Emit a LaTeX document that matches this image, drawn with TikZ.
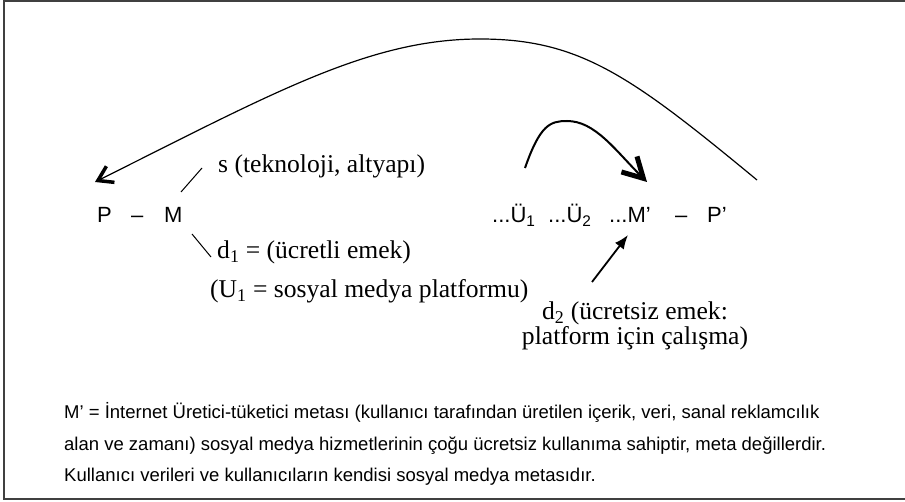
\documentclass[tikz,border=0pt]{standalone}
\usepackage{fontspec}
\setmainfont{Liberation Serif}
\newfontfamily\arialf{Liberation Sans}
\usetikzlibrary{arrows.meta,positioning,calc}

\begin{document}
\begin{tikzpicture}[x=1pt,y=-1pt,
  sanslbl/.style={inner sep=0pt,anchor=base west,font=\arialf\fontsize{22}{22}\selectfont},
  seriflbl/.style={inner sep=0pt,anchor=base west,font=\fontsize{25.6}{25.6}\selectfont},
  notelbl/.style={inner sep=0pt,anchor=base west,font=\arialf\fontsize{18.5}{18.5}\selectfont}]
  \useasboundingbox (0,0) rectangle (905,502);
  \draw[line width=2.5pt,black!75] (905,1) -- (4,1) -- (4,499) -- (905,499);
  % left formula
  \node[sanslbl] (P) at (97,223) {P};
  \node[sanslbl] (dashl) at (131,223) {–};
  \node[sanslbl] (M) at (164,223) {M};
  \node[seriflbl] (tech) at (218,173) {s (teknoloji, altyapı)};
  \node[seriflbl] (paid) at (217,259) {d\textsubscript{1} = (ücretli emek)};
  \node[seriflbl] (plat) at (210,298) {(U\textsubscript{1} = sosyal medya platformu)};
  \coordinate (mtop) at (181,192);
  \coordinate (techend) at (202,168);
  \coordinate (mbot) at (192,234);
  \coordinate (paidend) at (211,257);
  \draw[line width=1pt] (mtop) -- (techend);
  \draw[line width=1pt] (mbot) -- (paidend);
  % right formula
  \node[sanslbl] (ua) at (492,223) {...Ü\textsubscript{1}};
  \node[sanslbl] (ub) at (548,223) {...Ü\textsubscript{2}};
  \node[sanslbl] (mp) at (609,223) {...M’};
  \node[sanslbl] (dashr) at (675,223) {–};
  \node[sanslbl] (pp) at (707,223) {P’};
  \node[inner sep=0pt,anchor=north,align=center,font=\fontsize{25.6}{25}\selectfont] (unpaid) at (635,302)
    {d\textsubscript{2} (ücretsiz emek:\\platform için çalışma)};
  \coordinate (unpaidtop) at (592,282);
  \coordinate (mpfoot) at (628,235);
  \draw[line width=1.8pt,-{Latex[length=14pt,width=11pt]}] (unpaidtop) -- (mpfoot);
  % arcs
  \coordinate (bigstart) at (757,180);
  \coordinate (bigtop) at (480,39);
  \coordinate (ptip) at (95,182);
  \draw[line width=1.2pt,-{Straight Barb[length=14pt,width=18pt,line width=3.5pt]}]
    (bigstart) .. controls (631,76) and (580,39) .. (bigtop)
    .. controls (370,39) and (275,92) .. (ptip);
  \coordinate (smallstart) at (525,168);
  \coordinate (smalltop) at (567,121);
  \coordinate (mptip) at (647,182);
  \draw[line width=2pt,-{Straight Barb[length=20pt,width=22pt,line width=5pt]}]
    (smallstart) .. controls (540,125) and (550,121) .. (smalltop)
    .. controls (595,121) and (615,150) .. (mptip);
  % note
  \node[notelbl] (note1) at (64,418) {M’ = İnternet Üretici-tüketici metası (kullanıcı tarafından üretilen içerik, veri, sanal reklamcılık};
  \node[notelbl] (note2) at (64,450) {alan ve zamanı) sosyal medya hizmetlerinin çoğu ücretsiz kullanıma sahiptir, meta değillerdir.};
  \node[notelbl] (note3) at (64,481) {Kullanıcı verileri ve kullanıcıların kendisi sosyal medya metasıdır.};
\end{tikzpicture}
\end{document}
